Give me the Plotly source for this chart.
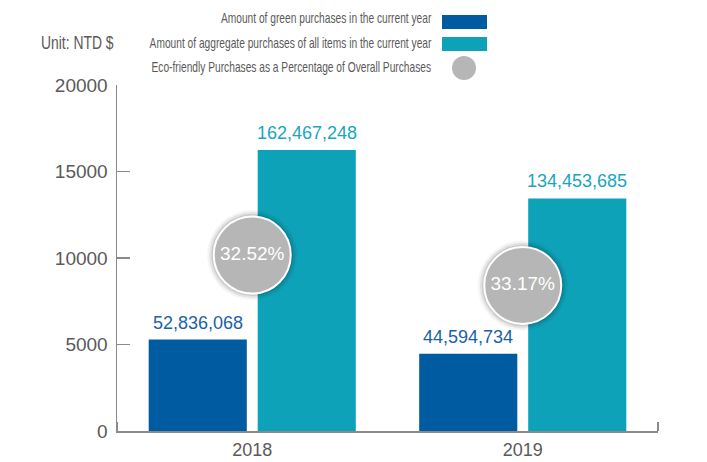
import plotly.graph_objects as go

# ---------------- data ----------------
years = ["2018", "2019"]
green_purchases = [52836068, 44594734]
aggregate_purchases = [162467248, 134453685]
unit_divisor = 10000
y_ticks = [0, 5000, 10000, 15000, 20000]
legend_labels = [
    "Amount of green purchases in the current year",
    "Amount of aggregate purchases of all items in the current year",
    "Eco-friendly Purchases as a Percentage of Overall Purchases",
]
unit_label = "Unit: NTD $"

# ---------------- style ----------------
DARK = "#005ba1"
TEAL = "#0ea2b9"
DARK_TXT = "#1a62a8"
TEAL_TXT = "#1aa6bd"
GREY_CIRCLE = "#b5b6b5"
AXIS = "#8a8a8a"
TXT = "#5a5a5a"
NUM_FONT = "Liberation Sans, Arial, sans-serif"
LABEL_FONT = "Liberation Sans, Arial, sans-serif"
BARGAP = 0.194
BARGROUPGAP = 0.1

W, H = 707, 462
ML, MR, MT, MB = 117, 49, 85, 31
PW, PH = W - ML - MR, H - MT - MB


def px_x(px):
    return (px - ML) / PW


def px_y(py):
    return (H - MB - py) / PH


xpos = list(range(len(years)))
green_scaled = [v / unit_divisor for v in green_purchases]
agg_scaled = [v / unit_divisor for v in aggregate_purchases]
pct = [g / a * 100 for g, a in zip(green_purchases, aggregate_purchases)]
pct_text = [f"{p:.2f}%" for p in pct]
circle_y = [a * 0.626 for a in agg_scaled]
bar_off = (1 - BARGAP) / 4  # centre offset of each bar within its group

fig = go.Figure()

fig.add_trace(go.Bar(
    x=xpos, y=green_scaled, marker=dict(color=DARK, line=dict(width=0)),
    showlegend=False, hoverinfo="skip",
))
fig.add_trace(go.Bar(
    x=xpos, y=agg_scaled, marker=dict(color=TEAL, line=dict(width=0)),
    showlegend=False, hoverinfo="skip",
))

# soft shadow behind the percentage circles
for size, alpha in [(90, 0.04), (86, 0.07), (82, 0.10)]:
    fig.add_trace(go.Scatter(
        x=xpos, y=circle_y, mode="markers",
        marker=dict(size=size, color=f"rgba(0,0,0,{alpha})", line=dict(width=0)),
        showlegend=False, hoverinfo="skip", cliponaxis=False,
    ))

fig.add_trace(go.Scatter(
    x=xpos, y=circle_y, mode="markers+text", text=pct_text,
    textposition="middle center",
    textfont=dict(color="white", size=19, family=NUM_FONT),
    marker=dict(size=77, color=GREY_CIRCLE, line=dict(color="white", width=2)),
    showlegend=False, hoverinfo="skip", cliponaxis=False,
))

annotations = []
# value labels above the bars
for xi, g, gs, a, as_ in zip(xpos, green_purchases, green_scaled,
                             aggregate_purchases, agg_scaled):
    annotations.append(dict(
        xref="x", yref="y", x=xi - bar_off, y=gs, yanchor="bottom",
        xanchor="center", yshift=5, text=f"{g:,}", showarrow=False,
        font=dict(size=18, color=DARK_TXT, family=NUM_FONT),
    ))
    annotations.append(dict(
        xref="x", yref="y", x=xi + bar_off, y=as_, yanchor="bottom",
        xanchor="center", yshift=5, text=f"{a:,}", showarrow=False,
        font=dict(size=18, color=TEAL_TXT, family=NUM_FONT),
    ))

# ---------------- legend (manual, text right-aligned before swatch) ----------------
legend_rows_y = [18, 42, 66]
for lbl, yy in zip(legend_labels, legend_rows_y):
    annotations.append(dict(
        xref="paper", yref="paper", x=px_x(433), y=px_y(yy),
        xanchor="right", yanchor="middle", align="right", text=lbl,
        showarrow=False, font=dict(size=15, color=TXT, family=LABEL_FONT),
    ))
annotations.append(dict(
    xref="paper", yref="paper", x=px_x(39), y=px_y(42),
    xanchor="left", yanchor="middle", align="left", text=unit_label,
    showarrow=False, font=dict(size=19, color=TXT, family=LABEL_FONT),
))

shapes = [
    dict(type="rect", xref="paper", yref="paper",
         x0=px_x(442), x1=px_x(487), y0=px_y(29), y1=px_y(15),
         fillcolor=DARK, line=dict(width=0)),
    dict(type="rect", xref="paper", yref="paper",
         x0=px_x(442), x1=px_x(487), y0=px_y(51), y1=px_y(37),
         fillcolor=TEAL, line=dict(width=0)),
    dict(type="circle", xref="paper", yref="paper",
         x0=px_x(452), x1=px_x(476), y0=px_y(80), y1=px_y(56),
         fillcolor=GREY_CIRCLE, line=dict(width=0)),
]

fig.update_layout(
    width=W, height=H,
    margin=dict(l=ML, r=MR, t=MT, b=MB, pad=0),
    paper_bgcolor="white", plot_bgcolor="white",
    barmode="group", bargap=BARGAP, bargroupgap=BARGROUPGAP,
    annotations=annotations, shapes=shapes,
    font=dict(family=NUM_FONT, color=TXT),
    showlegend=False,
)
fig.update_xaxes(
    type="linear", range=[-0.5, 1.5], tickvals=xpos, ticktext=years,
    showline=True, linecolor=AXIS, linewidth=1.5, ticks="",
    showgrid=False, zeroline=False, automargin=False,
    tickfont=dict(size=18, color=TXT, family=NUM_FONT),
    ticklabelstandoff=2,
    minor=dict(tickmode="array", tickvals=[-0.5, 1.5], ticks="inside",
               ticklen=9, tickcolor=AXIS, tickwidth=1.5, showgrid=False),
)
fig.update_yaxes(
    range=[0, 20000], tickvals=y_ticks, ticktext=[str(t) for t in y_ticks],
    showline=True, linecolor=AXIS, linewidth=1.5,
    ticks="inside", ticklen=13, tickcolor=AXIS, tickwidth=1.5,
    showgrid=False, zeroline=False, automargin=False,
    tickfont=dict(size=19, color=TXT, family=NUM_FONT),
    ticklabelstandoff=4,
)

# page without body margin; condense the lettered (legend / unit) texts
post = """
document.body.style.margin = '0px';
var gd = document.getElementById('{plot_id}');
gd.querySelectorAll('.annotation-text').forEach(function (t) {
  var s = t.textContent || '';
  if (/[A-Za-z]/.test(s)) {
    var f = (s.indexOf('Unit') === 0) ? 0.73 : 0.68;
    var L = t.getComputedTextLength();
    t.setAttribute('textLength', (L * f).toFixed(1));
    t.setAttribute('lengthAdjust', 'spacingAndGlyphs');
  }
});
"""

fig.write_html("out.html", post_script=post,
               config={"displayModeBar": False, "staticPlot": True})
